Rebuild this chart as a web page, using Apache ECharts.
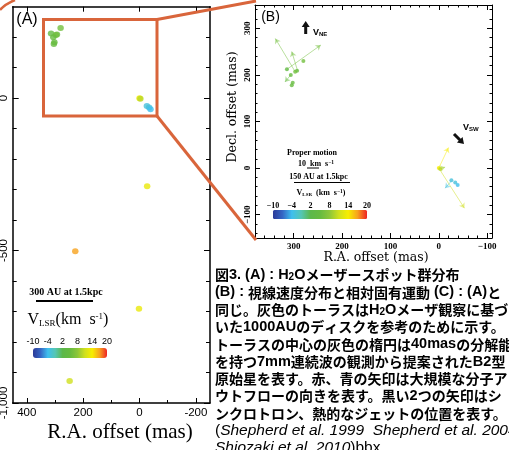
<!DOCTYPE html>
<html><head><meta charset="utf-8">
<script src="https://cdn.jsdelivr.net/npm/echarts@6/dist/echarts.min.js"></script>
<style>html,body{margin:0;padding:0;background:#fff}#c{width:509px;height:450px}</style>
</head><body><div id="c"></div><script>
// ---------- data ----------
// H2O maser spots: R.A. offset (mas), Decl. offset (mas), V_LSR (km/s)
const spotRA  = [314, 280, 293, 297, 306, 302, 304,   0,  -3, -26, -34, -39,  -27,  228,    2,  248];
const spotDec = [212, 230, 209, 207, 200, 183, 178,   0,  -2, -26, -31, -36, -289, -502, -691, -928];
const spotV   = [  4,   6,   5,   6,   5,   5,   5,  14,  10,  -3,  -3,  -4,   13,   17,   13,   11];
// proper-motion vectors (panel B): start / end in mas, V_LSR
const pmX0 = [297, 314, 292, 306,   0,   0,  -3, -26];
const pmY0 = [207, 212, 209, 200,   0,   0,  -1, -28];
const pmX1 = [338, 244, 304, 318, -20, -53, -13, -13];
const pmY1 = [278, 264, 250, 185,  44, -86,   2, -43];
const pmV  = [  6,   6,   6,   5,  14,  11,   9,  -3];
// ticks
const aXMajor = [400, 200, 0, -200];
const aXMinor = [300, 100, -100];
const aYMajor = [0, -500, -1000];
const aYMinor = [200, 100, -100, -200, -300, -400, -600, -700, -800, -900];
const bXMajor = [300, 200, 100, 0, -100];
const bYMajor = [300, 200, 100, 0, -100];
const cbarTicks = [-10, -4, 2, 8, 14, 20];
const captionLines = [
  '{j|図}{l|3. (A) : H}{s|2}{l|O}{j|メーザースポット群分布}',
  '{l|(B) : }{j|視線速度分布と相対固有運動}{l| (C) : (A)}{j|と}',
  '{j|同じ。灰色のトーラスは}{l|H}{s|2}{l|O}{j|メーザ観察に基づ}',
  '{j|いた}{l|1000AU}{j|のディスクを参考のために示す。}',
  '{j|トーラスの中心の灰色の楕円は}{l|40mas}{j|の分解能}',
  '{j|を持つ}{l|7mm}{j|連続波の観測から提案された}{l|B2}{j|型}',
  '{j|原始星を表す。赤、青の矢印は大規模な分子ア}',
  '{j|ウトフローの向きを表す。黒い}{l|2}{j|つの矢印はシ}',
  '{j|ンクロトロン、熱的なジェットの位置を表す。}',
  '{n|(}{i|Shepherd et al. 1999  Shepherd et al. 2004}',
  '{i|Shiozaki et al. 2010}{n|)bbx}'
];
// ---------- helpers ----------
const stops = [[-10,'#2b3a98'],[-7,'#3565c4'],[-4,'#3fbfee'],[-1,'#55c6b4'],[2,'#5cb84a'],[5,'#66bb40'],[8,'#8cc63a'],[11,'#cfe01e'],[14,'#f7ee00'],[17,'#f7a21e'],[20,'#ee2424']];
function hex(c){return [parseInt(c.slice(1,3),16),parseInt(c.slice(3,5),16),parseInt(c.slice(5,7),16)];}
function vColor(v){
  if (v<=stops[0][0]) return stops[0][1];
  for (let i=1;i<stops.length;i++){
    if (v<=stops[i][0]){
      const t=(v-stops[i-1][0])/(stops[i][0]-stops[i-1][0]);
      const a=hex(stops[i-1][1]), b=hex(stops[i][1]);
      return 'rgb('+a.map((x,k)=>Math.round(x+(b[k]-x)*t)).join(',')+')';
    }
  }
  return stops[stops.length-1][1];
}
function range(a,b,s){const r=[];for(let v=a;v<=b;v+=s)r.push(v);return r;}
const bXMinor = range(-100,380,20).filter(v=>v%100!==0);
const bYMinor = range(-140,340,20).filter(v=>v%100!==0);

function ax(o){
  return {
    type:'value', gridIndex:o.g, position:o.pos, min:o.min, max:o.max, inverse:!!o.inv,
    axisLine:{show:o.line!==false, onZero:false, lineStyle:{color:'#000', width:o.lw||1}},
    axisTick:{show:true, inside:true, length:o.len, customValues:o.ticks, lineStyle:{color:'#000', width:1}},
    axisLabel: o.labels ? Object.assign({show:true, customValues:o.labels}, o.lab) : {show:false},
    splitLine:{show:false}, minorTick:{show:false}, splitArea:{show:false}, z: 5
  };
}
const labA = {color:'#000', fontFamily:'Liberation Sans', fontSize:11.5, margin:4};
const labB = {color:'#000', fontFamily:'Liberation Serif', fontWeight:'bold', fontSize:9, margin:4,
  formatter:v=>String(v).replace('-','\u2212')};

const xAxes = [
  ax({g:0,pos:'bottom',min:-250,max:450,inv:true,ticks:aXMajor,len:5,lw:1.5,labels:aXMajor,lab:labA}),
  ax({g:0,pos:'bottom',min:-250,max:450,inv:true,ticks:aXMinor,len:3,line:false}),
  ax({g:0,pos:'top',min:-250,max:450,inv:true,ticks:aXMajor,len:5,lw:1.5}),
  ax({g:1,pos:'bottom',min:-110,max:380,inv:true,ticks:bXMajor,len:5,labels:bXMajor,lab:labB}),
  ax({g:1,pos:'bottom',min:-110,max:380,inv:true,ticks:bXMinor,len:2.5,line:false}),
  ax({g:1,pos:'top',min:-110,max:380,inv:true,ticks:bXMajor,len:5}),
  ax({g:1,pos:'top',min:-110,max:380,inv:true,ticks:bXMinor,len:2.5,line:false})
];
const yAxes = [
  ax({g:0,pos:'left',min:-1000,max:300,ticks:aYMajor,len:6,lw:1.5,labels:aYMajor,lab:Object.assign({rotate:90},labA,{margin:3})}),
  ax({g:0,pos:'left',min:-1000,max:300,ticks:aYMinor,len:4,line:false}),
  ax({g:0,pos:'right',min:-1000,max:300,ticks:aYMajor,len:6,lw:1.5}),
  ax({g:0,pos:'right',min:-1000,max:300,ticks:aYMinor,len:4,line:false}),
  ax({g:1,pos:'left',min:-150,max:350,ticks:bYMajor,len:5,labels:bYMajor,lab:Object.assign({rotate:90},labB,{margin:3})}),
  ax({g:1,pos:'left',min:-150,max:350,ticks:bYMinor,len:2.5,line:false}),
  ax({g:1,pos:'right',min:-150,max:350,ticks:bYMajor,len:5}),
  ax({g:1,pos:'right',min:-150,max:350,ticks:bYMinor,len:2.5,line:false})
];

const spotData = spotRA.map((x,i)=>({value:[x,spotDec[i],spotV[i]], itemStyle:{color:vColor(spotV[i])}}));
const pmData = pmX0.map((x,i)=>({coords:[[x,pmY0[i]],[pmX1[i],pmY1[i]]], lineStyle:{color:vColor(pmV[i]), width:1}}));

function gradStops(){return stops.map(s=>({offset:(s[0]+10)/30, color:s[1]}));}
function txt(x,y,text,font,align,extra){
  return Object.assign({type:'text', x:x, y:y, z:20, style:Object.assign({x:0,y:0,text:text,font:font,fill:'#000',textAlign:align||'center',textVerticalAlign:'middle'}, extra||{})});
}
function arrowPoly(x0,y0,x1,y1,sw,hw,hl){
  const dx=x1-x0, dy=y1-y0, L=Math.hypot(dx,dy), ux=dx/L, uy=dy/L, px=-uy, py=ux;
  const bx=x1-ux*hl, by=y1-uy*hl;
  return [[x0+px*sw/2,y0+py*sw/2],[bx+px*sw/2,by+py*sw/2],[bx+px*hw/2,by+py*hw/2],[x1,y1],
          [bx-px*hw/2,by-py*hw/2],[bx-px*sw/2,by-py*sw/2],[x0-px*sw/2,y0-py*sw/2]];
}
const orange = '#d9653b';
const graphics = [];
// zoom box + connectors
graphics.push({type:'rect', z:15, shape:{x:43.5,y:19.5,width:113.5,height:96.5}, style:{fill:null, stroke:orange, lineWidth:3}});
graphics.push({type:'line', z:15, shape:{x1:157,y1:19.5,x2:256,y2:1}, style:{stroke:orange, lineWidth:3}});
graphics.push({type:'line', z:15, shape:{x1:157,y1:116,x2:256,y2:240}, style:{stroke:orange, lineWidth:3}});
graphics.push({type:'bezierCurve', z:15, shape:{x1:0,y1:10,cpx1:5,cpy1:4,x2:15,y2:0}, style:{stroke:orange, lineWidth:2.5, fill:null}});
// panel labels
graphics.push(txt(27,20,'(A)','16px "Liberation Sans"'));
graphics.push(txt(270.5,17,'(B)','14px "Liberation Sans"'));
// axis titles
graphics.push(txt(120,432,'R.A. offset (mas)','21px "Liberation Serif"'));
graphics.push(txt(376,258,'R.A. offset (mas)','12.5px "DejaVu Serif"'));
graphics.push(Object.assign(txt(233,107,'Decl. offset (mas)','12.5px "DejaVu Serif"'),{rotation:Math.PI/2}));
// panel A legend
graphics.push(txt(66,292,'300 AU at 1.5kpc','bold 10px "Liberation Serif"'));
graphics.push({type:'line', z:15, shape:{x1:36,y1:301,x2:93,y2:301}, style:{stroke:'#000', lineWidth:2}});
graphics.push(txt(68,320,'{a|V}{b|LSR}{a|(km  s}{c|-1}{a|)}','16px "Liberation Serif"','center',
  {rich:{a:{font:'16px "Liberation Serif"',fill:'#000'},b:{font:'9px "Liberation Serif"',fill:'#000',verticalAlign:'bottom'},c:{font:'9px "Liberation Serif"',fill:'#000',verticalAlign:'top'}}}));
graphics.push({type:'rect', z:15, shape:{x:33,y:348,width:74,height:10,r:3}, style:{fill:new echarts.graphic.LinearGradient(0,0,1,0,gradStops())}});
cbarTicks.forEach(v=>graphics.push(txt(33+(v+10)/30*74,342,String(v),'9px "Liberation Sans"')));
// panel B legend
graphics.push(txt(312,153,'Proper motion','bold 8px "Liberation Serif"'));
graphics.push(txt(316,164,'10  km  s{c|−1}','bold 8px "Liberation Serif"','center',{rich:{c:{font:'bold 5.5px "Liberation Serif"',fill:'#000',verticalAlign:'top'}}}));
graphics.push({type:'line', z:15, shape:{x1:307,y1:168,x2:319,y2:168}, style:{stroke:'#000', lineWidth:1}});
graphics.push(txt(318.5,176.5,'150 AU at 1.5kpc','bold 8px "Liberation Serif"'));
graphics.push({type:'line', z:15, shape:{x1:294,y1:182.5,x2:350,y2:182.5}, style:{stroke:'#000', lineWidth:1}});
graphics.push(txt(321,193,'{a|V}{b|LSR}{a|  (km  s}{c|−1}{a|)}','bold 8px "Liberation Serif"','center',
  {rich:{a:{font:'bold 8px "Liberation Serif"',fill:'#000'},b:{font:'bold 5px "Liberation Serif"',fill:'#000',verticalAlign:'bottom'},c:{font:'bold 5.5px "Liberation Serif"',fill:'#000',verticalAlign:'top'}}}));
graphics.push({type:'rect', z:15, shape:{x:273,y:210,width:94,height:9,r:1.5}, style:{fill:new echarts.graphic.LinearGradient(0,0,1,0,gradStops())}});
cbarTicks.forEach(v=>graphics.push(txt(273+(v+10)/30*94,205.5,String(v).replace('-','\u2212'),'bold 8px "Liberation Serif"')));
// black jet arrows
graphics.push({type:'polygon', z:15, shape:{points:arrowPoly(305.7,34,305.7,21,3,8,6)}, style:{fill:'#111'}});
graphics.push(txt(313,33,'{a|V}{b|NE}','bold 9px "Liberation Sans"','left',{rich:{a:{font:'bold 9px "Liberation Sans"',fill:'#000'},b:{font:'bold 6px "Liberation Sans"',fill:'#000',verticalAlign:'bottom'}}}));
graphics.push({type:'polygon', z:15, shape:{points:arrowPoly(454,134,464,144,3,8,6)}, style:{fill:'#111'}});
graphics.push(txt(463,128,'{a|V}{b|SW}','bold 9px "Liberation Sans"','left',{rich:{a:{font:'bold 9px "Liberation Sans"',fill:'#000'},b:{font:'bold 6px "Liberation Sans"',fill:'#000',verticalAlign:'bottom'}}}));
// caption
const capRich = {
  j:{font:'bold 14px "Noto Sans CJK JP"',fill:'#000'},
  l:{font:'bold 14.5px "Liberation Sans"',fill:'#000'},
  s:{font:'bold 10px "Liberation Sans"',fill:'#000',verticalAlign:'bottom'},
  n:{font:'15.5px "Liberation Sans"',fill:'#000'},
  i:{font:'italic 15.5px "Liberation Sans"',fill:'#000'}
};
captionLines.forEach((l,k)=>graphics.push(txt(215,275+k*17.3,l,'bold 14px "Noto Sans CJK JP"','left',{rich:capRich})));

const chart = echarts.init(document.getElementById('c'), null, {renderer:'canvas'});
chart.setOption({
  animation:false,
  backgroundColor:'#fff',
  grid:[
    {left:12.7, top:6.7, width:197.3, height:396.3, outerBoundsMode:'none', containLabel:false},
    {left:255, top:5, width:237, height:233, outerBoundsMode:'none', containLabel:false}
  ],
  xAxis:xAxes,
  yAxis:yAxes,
  series:[
    {type:'scatter', xAxisIndex:0, yAxisIndex:0, symbolSize:[6.5,6], data:spotData, z:3},
    {type:'lines', coordinateSystem:'cartesian2d', xAxisIndex:3, yAxisIndex:4, polyline:false,
     symbol:['none','arrow'], symbolSize:[0,5], data:pmData, z:3},
    {type:'scatter', xAxisIndex:3, yAxisIndex:4, symbolSize:4, clip:true, data:spotData, z:4}
  ],
  graphic:{elements:graphics}
});
</script></body></html>
